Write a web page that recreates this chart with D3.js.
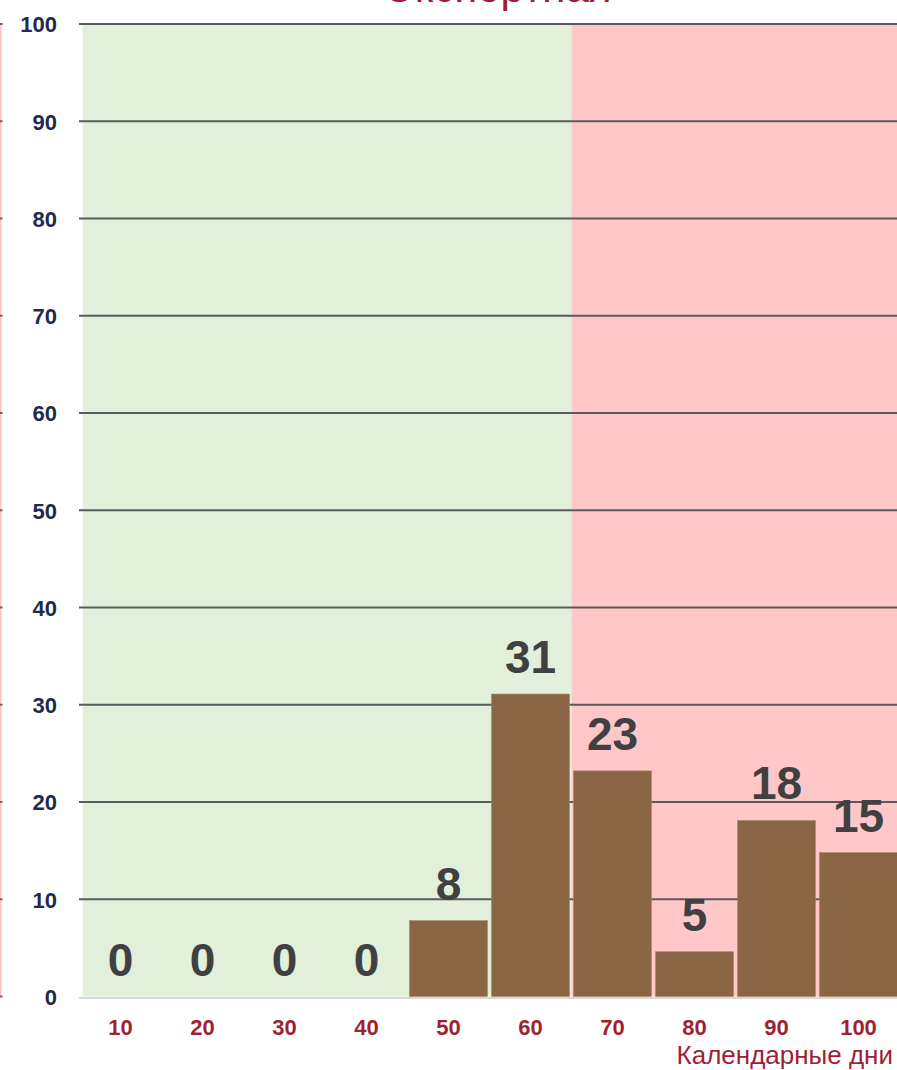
<!DOCTYPE html>
<html>
<head>
<meta charset="utf-8">
<script src="https://cdn.jsdelivr.net/npm/d3@7"></script>
<style>
  html, body { margin: 0; padding: 0; background: #fff; }
  svg { display: block; }
</style>
</head>
<body>
<svg id="chart" width="897" height="1070"></svg>
<script>
// ---- data ----
const title = "Экспортная";
const xTitle = "Календарные дни";
const categories = ["10", "20", "30", "40", "50", "60", "70", "80", "90", "100"];
const values = [0, 0, 0, 0, 7.8, 31.1, 23.2, 4.6, 18.1, 14.8];
const yTicks = [0, 10, 20, 30, 40, 50, 60, 70, 80, 90, 100];
const greenZone = ["10", "20", "30", "40", "50", "60"];
const redZone = ["70", "80", "90", "100"];

// ---- layout ----
const svg = d3.select("#chart");
const W = 897;
const x = d3.scaleBand().domain(categories).range([79.5, 899.5])
  .paddingInner(0.05).paddingOuter(0.025);
const y = d3.scaleLinear().domain([0, 100]).range([996.5, 24]);

const step = x.step();
const gap = step * x.paddingInner();
const zoneStart = c => x(c) - gap / 2;
const zoneEnd = c => x(c) + x.bandwidth() + gap / 2;

// backgrounds
svg.append("rect")
  .attr("x", zoneStart(greenZone[0]) + 3)
  .attr("y", y(100))
  .attr("width", zoneEnd(greenZone[greenZone.length - 1]) - zoneStart(greenZone[0]) - 3)
  .attr("height", y(0) - y(100))
  .attr("fill", "#e2efda");
svg.append("rect")
  .attr("x", zoneStart(redZone[0]))
  .attr("y", y(100))
  .attr("width", W - zoneStart(redZone[0]))
  .attr("height", y(0) - y(100))
  .attr("fill", "#ffc7c7");

// left edge line (neighbouring panel)
svg.append("rect").attr("x", 0).attr("y", y(100)).attr("width", 1.5)
  .attr("height", y(0) - y(100)).attr("fill", "#ffc0c0");
svg.selectAll(".ltick").data(yTicks).join("rect")
  .attr("x", 0).attr("y", d => y(d) - 1).attr("width", 2.5).attr("height", 2)
  .attr("fill", "#666");

// gridlines
svg.selectAll(".grid").data(yTicks.filter(d => d > 0)).join("line")
  .attr("x1", 79).attr("x2", W)
  .attr("y1", d => y(d)).attr("y2", d => y(d))
  .attr("stroke", "#5a5a5a").attr("stroke-width", 2.2);

// baseline
svg.append("line").attr("x1", 79).attr("x2", W)
  .attr("y1", y(0) + 1.5).attr("y2", y(0) + 1.5)
  .attr("stroke", "#d9d9d9").attr("stroke-width", 2);

// bars
const data = categories.map((c, i) => ({ c, v: values[i] }));
svg.selectAll(".bar").data(data).join("rect")
  .attr("x", d => x(d.c))
  .attr("y", d => y(d.v))
  .attr("width", x.bandwidth())
  .attr("height", d => y(0) - y(d.v))
  .attr("fill", "#8a6646")
  .attr("stroke", "#a68466").attr("stroke-width", 0.6);

// value labels
svg.selectAll(".val").data(data).join("text")
  .attr("x", d => x(d.c) + x.bandwidth() / 2)
  .attr("y", d => y(d.v) - 21)
  .attr("text-anchor", "middle")
  .attr("font-family", "Liberation Sans, Arial, sans-serif")
  .attr("font-weight", "bold")
  .attr("font-size", 46)
  .attr("fill", "#404040")
  .text(d => d3.format(".0f")(d.v));

// y axis labels
const yAxis = d3.axisLeft(y).tickValues(yTicks).tickSize(0).tickPadding(0);
const gy = svg.append("g").attr("transform", "translate(57,0)").call(yAxis);
gy.select(".domain").remove();
gy.selectAll("text")
  .attr("font-family", "Liberation Sans, Arial, sans-serif")
  .attr("font-weight", "bold")
  .attr("font-size", 22)
  .attr("fill", "#1f2a50")
  .attr("dy", "0.36em");

// x axis labels
const xAxis = d3.axisBottom(x).tickSize(0).tickPadding(0);
const gx = svg.append("g").attr("transform", "translate(0,1035)").call(xAxis);
gx.select(".domain").remove();
gx.selectAll("text")
  .attr("font-family", "Liberation Sans, Arial, sans-serif")
  .attr("font-weight", "bold")
  .attr("font-size", 22)
  .attr("fill", "#9e1f36")
  .attr("dy", 0);

// axis title
svg.append("text")
  .attr("x", 893).attr("y", 1064)
  .attr("text-anchor", "end")
  .attr("font-family", "Liberation Sans, Arial, sans-serif")
  .attr("font-size", 26)
  .attr("fill", "#9e1f36")
  .text(xTitle);

// chart title (cut off at top, as in the reference)
svg.append("text")
  .attr("x", 498).attr("y", 2)
  .attr("text-anchor", "middle")
  .attr("font-family", "Liberation Sans, Arial, sans-serif")
  .attr("font-size", 42)
  .attr("fill", "#a01c36")
  .text(title);
</script>
</body>
</html>
